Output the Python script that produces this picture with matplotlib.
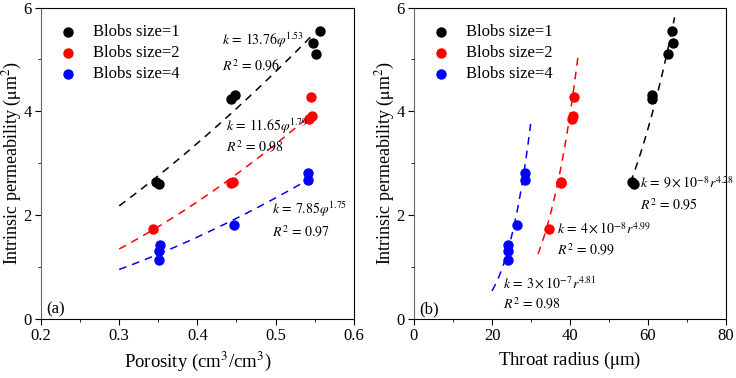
import numpy as np
import matplotlib
matplotlib.use("Agg")
import matplotlib.pyplot as plt
from matplotlib.ticker import AutoMinorLocator

plt.rcParams["font.family"] = ["Liberation Serif", "DejaVu Serif"]
plt.rcParams["mathtext.fontset"] = "stix"

# permeability (um^2) per blob size, same samples in both panels
k1 = [2.64, 2.61, 4.24, 4.31, 5.54, 5.32, 5.11]
k2 = [2.62, 2.64, 1.74, 4.28, 3.86, 3.92]
k4 = [2.82, 2.67, 1.81, 1.42, 1.31, 1.13]

# porosity
phi1 = [0.3465, 0.351, 0.4427, 0.4486, 0.5563, 0.5478, 0.552]
phi2 = [0.4427, 0.4456, 0.3426, 0.5457, 0.5427, 0.547]
phi4 = [0.5414, 0.5414, 0.4465, 0.352, 0.351, 0.351]

# throat radius (um)
r1 = [55.9, 56.3, 60.9, 60.9, 66.1, 66.3, 65.1]
r2 = [37.8, 37.6, 34.6, 41.0, 40.6, 40.85]
r4 = [28.5, 28.5, 26.4, 24.2, 24.2, 24.2]

labels = ["Blobs size=1", "Blobs size=2", "Blobs size=4"]
colors = ["black", "red", "blue"]

# power-law fits k = a * x^b and the range they are drawn over
phi_a = [13.76, 11.65, 7.85]
phi_b = [1.53, 1.79, 1.75]
phi_rng = [(0.30, 0.55), (0.30, 0.545), (0.30, 0.54)]
r_a = [9e-8, 4e-8, 3e-7]
r_b = [4.28, 4.99, 4.81]
r_rng = [(55.5, 66.8), (31.8, 42.0), (20.0, 29.9)]

phi_txt = [r"$k\,=\,13.76\varphi^{1.53}$", r"$k\,=\,11.65\varphi^{1.79}$", r"$k\,=\,7.85\varphi^{1.75}$"]
phi_r2 = [r"$R^2\,=\,0.96$", r"$R^2\,=\,0.98$", r"$R^2\,=\,0.97$"]
phi_pos = [(0.431, 5.37, 4.88), (0.437, 3.71, 3.31), (0.495, 2.11, 1.68)]
r_txt = [r"$k\,=\,9\times10^{-8}r^{4.28}$", r"$k\,=\,4\times10^{-8}r^{4.99}$", r"$k\,=\,3\times10^{-7}r^{4.81}$"]
r_r2 = [r"$R^2\,=\,0.95$", r"$R^2\,=\,0.99$", r"$R^2\,=\,0.98$"]
r_pos = [(58.0, 2.61, 2.19), (36.6, 1.74, 1.33), (22.7, 0.69, 0.29)]

fig = plt.figure(figsize=(7.36, 3.78), dpi=100)
ax1 = fig.add_axes([0.0557, 0.156, 0.425, 0.824])
ax2 = fig.add_axes([0.5625, 0.156, 0.424, 0.824])

xs_phi = [phi1, phi2, phi4]
xs_r = [r1, r2, r4]
ks = [k1, k2, k4]

for i in range(3):
    ax1.scatter(xs_phi[i], ks[i], s=42, color=colors[i], label=labels[i], zorder=3)
    x = np.linspace(phi_rng[i][0], phi_rng[i][1], 50)
    ax1.plot(x, phi_a[i] * x ** phi_b[i], ls=(0, (5, 4)), lw=1.1, color=colors[i])
    px, py1, py2 = phi_pos[i]
    ax1.text(px, py1, phi_txt[i], fontsize=10, va="center")
    ax1.text(px, py2, phi_r2[i], fontsize=10, va="center")

    ax2.scatter(xs_r[i], ks[i], s=42, color=colors[i], label=labels[i], zorder=3)
    x = np.linspace(r_rng[i][0], r_rng[i][1], 50)
    ax2.plot(x, r_a[i] * x ** r_b[i], ls=(0, (5, 4)), lw=1.1, color=colors[i])
    px, py1, py2 = r_pos[i]
    ax2.text(px, py1, r_txt[i], fontsize=10, va="center")
    ax2.text(px, py2, r_r2[i], fontsize=10, va="center")

ax1.set_xlim(0.2, 0.6)
ax1.set_xticks([0.2, 0.3, 0.4, 0.5, 0.6])
ax2.set_xlim(0, 80)
ax2.set_xticks([0, 20, 40, 60, 80])
ax1.set_xlabel(r"Porosity (cm$^3$/cm$^3$)", fontsize=13.5)
ax2.set_xlabel(r"Throat radius ($\mathrm{\mu}$m)", fontsize=13.5)

for ax, tag in [(ax1, "(a)"), (ax2, "(b)")]:
    ax.set_ylim(0, 6)
    ax.set_yticks([0, 2, 4, 6])
    ax.xaxis.set_minor_locator(AutoMinorLocator(2))
    ax.yaxis.set_minor_locator(AutoMinorLocator(2))
    ax.tick_params(which="major", direction="out", length=4, labelsize=12, pad=2.5)
    ax.tick_params(which="minor", direction="out", length=2)
    ax.set_ylabel(r"Intrinsic permeability ($\mathrm{\mu}$m$^2$)", fontsize=13, labelpad=0)
    ax.text(0.018, 0.03, tag, transform=ax.transAxes, fontsize=12, va="center")
    ax.legend(loc="upper left", fontsize=12, frameon=False, handletextpad=0.9,
              labelspacing=0.3, borderaxespad=0.6, handlelength=1.2)
    ax.spines["left"].set_color("#666666")

fig.savefig("out.png", dpi=100)
